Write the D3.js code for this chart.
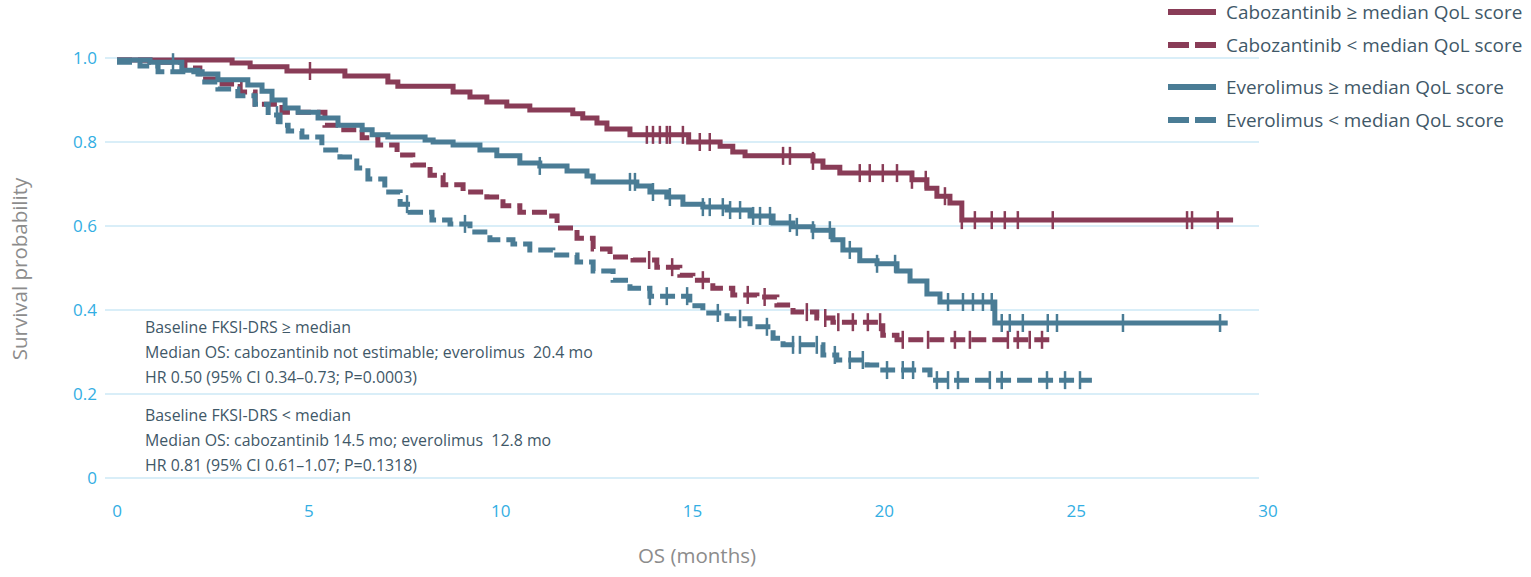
<!DOCTYPE html>
<html><head><meta charset="utf-8">
<script src="https://cdn.jsdelivr.net/npm/d3@7"></script>
<style>
html,body{margin:0;padding:0;background:#fff;}
svg{display:block;font-family:"Open Sans",sans-serif;}
</style></head>
<body><svg id="chart" width="1531" height="577"></svg>
<script>
// ---- data ----
const xTicks = [0, 5, 10, 15, 20, 25, 30];
const yTicks = [0, 0.2, 0.4, 0.6, 0.8, 1.0];
const yTickLabels = ["0", "0.2", "0.4", "0.6", "0.8", "1.0"];

const seriesNames = [
  "Cabozantinib \u2265 median QoL score",
  "Cabozantinib < median QoL score",
  "Everolimus \u2265 median QoL score",
  "Everolimus < median QoL score"
];

// Cabozantinib >= median (solid maroon)
const cabHiT = [0, 3.00, 3.47, 4.43, 5.94, 7.06, 7.32, 8.76, 9.20, 9.64, 10.16, 10.76, 11.88, 12.14, 12.51, 12.77, 13.37, 14.90, 15.72, 16.05, 16.37, 18.14, 18.40, 18.84, 20.72, 21.11, 21.37, 21.71, 22.02, 29.09];
const cabHiS = [0.995, 0.988, 0.979, 0.969, 0.957, 0.943, 0.933, 0.919, 0.907, 0.895, 0.886, 0.876, 0.867, 0.857, 0.845, 0.831, 0.817, 0.800, 0.790, 0.776, 0.767, 0.755, 0.740, 0.726, 0.710, 0.690, 0.671, 0.655, 0.614, 0.614];
const cabHiCens = [5.03, 13.81, 13.97, 14.15, 14.33, 14.41, 14.75, 15.19, 15.45, 17.36, 17.54, 18.14, 19.36, 19.62, 19.96, 20.33, 20.72, 21.08, 21.58, 22.02, 22.36, 22.80, 23.14, 23.48, 24.39, 27.89, 28.02, 28.69];

// Cabozantinib < median (dashed maroon)
const cabLoT = [0, 0.86, 1.77, 2.16, 2.74, 3.21, 3.60, 4.30, 5.42, 5.76, 6.39, 6.80, 7.30, 7.71, 8.16, 8.50, 9.02, 9.64, 10.06, 10.50, 11.21, 11.47, 11.99, 12.41, 12.85, 13.45, 14.07, 14.67, 15.01, 15.53, 16.05, 16.68, 17.20, 17.62, 18.24, 18.66, 19.96, 20.33, 24.37];
const cabLoS = [0.995, 0.990, 0.976, 0.950, 0.938, 0.919, 0.890, 0.871, 0.840, 0.829, 0.810, 0.793, 0.769, 0.745, 0.721, 0.698, 0.681, 0.669, 0.648, 0.633, 0.624, 0.595, 0.571, 0.545, 0.526, 0.519, 0.502, 0.483, 0.471, 0.452, 0.436, 0.431, 0.412, 0.395, 0.381, 0.371, 0.340, 0.329, 0.329];
const cabLoCens = [13.87, 14.47, 15.27, 16.44, 16.88, 17.98, 18.46, 18.80, 19.18, 19.57, 19.89, 20.48, 21.14, 21.84, 22.23, 23.22, 23.48, 23.79, 24.11];

// Everolimus >= median (solid teal)
const eveHiT = [0, 0.86, 1.69, 2.11, 2.63, 3.41, 3.78, 4.04, 4.38, 4.72, 5.24, 5.76, 6.39, 6.65, 7.06, 8.03, 8.24, 8.76, 9.46, 9.90, 10.50, 11.02, 11.73, 12.25, 12.41, 13.55, 13.89, 14.33, 14.75, 15.27, 15.90, 16.50, 17.10, 17.62, 18.14, 18.66, 18.92, 19.36, 19.81, 20.33, 20.67, 21.11, 21.45, 22.88, 28.95];
const eveHiS = [0.995, 0.990, 0.971, 0.962, 0.948, 0.936, 0.921, 0.900, 0.881, 0.871, 0.857, 0.840, 0.829, 0.817, 0.812, 0.805, 0.800, 0.793, 0.781, 0.767, 0.750, 0.743, 0.731, 0.719, 0.705, 0.695, 0.681, 0.669, 0.652, 0.645, 0.638, 0.624, 0.607, 0.598, 0.590, 0.567, 0.543, 0.517, 0.510, 0.493, 0.469, 0.438, 0.419, 0.369, 0.369];
const eveHiCens = [1.46, 11.02, 13.37, 13.50, 13.97, 14.41, 15.27, 15.45, 15.79, 15.98, 16.24, 16.58, 16.76, 17.02, 17.54, 17.72, 18.14, 18.58, 19.10, 19.81, 20.28, 21.66, 22.05, 22.31, 22.57, 22.80, 23.06, 23.27, 23.61, 24.26, 24.50, 26.22, 28.75];

// Everolimus < median (dashed teal)
const eveLoT = [0, 0.60, 1.07, 2.22, 2.63, 3.15, 3.60, 3.94, 4.25, 4.46, 4.82, 5.34, 5.81, 6.25, 6.54, 6.98, 7.38, 7.64, 8.21, 8.68, 9.20, 9.72, 10.32, 10.76, 11.36, 11.99, 12.41, 12.93, 13.37, 13.89, 14.93, 15.27, 15.90, 16.50, 17.10, 17.36, 18.40, 18.76, 19.55, 19.96, 21.19, 25.41];
const eveLoS = [0.990, 0.981, 0.967, 0.943, 0.926, 0.910, 0.890, 0.864, 0.840, 0.826, 0.812, 0.781, 0.764, 0.738, 0.712, 0.681, 0.652, 0.633, 0.614, 0.605, 0.586, 0.567, 0.557, 0.543, 0.531, 0.514, 0.493, 0.471, 0.452, 0.433, 0.410, 0.393, 0.379, 0.360, 0.333, 0.317, 0.293, 0.281, 0.269, 0.257, 0.233, 0.233];
const eveLoCens = [4.17, 7.56, 9.07, 13.89, 14.33, 14.86, 15.66, 16.24, 16.94, 17.62, 17.80, 18.24, 18.71, 19.10, 19.44, 20.07, 20.48, 20.75, 21.37, 21.66, 21.92, 22.75, 23.06, 24.24, 24.71, 25.10];

const annotLines = [
  "Baseline FKSI-DRS \u2265 median",
  "Median OS: cabozantinib not estimable; everolimus\u00a0 20.4 mo",
  "HR 0.50 (95% CI 0.34\u20130.73; P=0.0003)",
  "Baseline FKSI-DRS < median",
  "Median OS: cabozantinib 14.5 mo; everolimus\u00a0 12.8 mo",
  "HR 0.81 (95% CI 0.61\u20131.07; P=0.1318)"
];

// ---- styles ----
const MAROON = "#893c57";
const TEAL = "#4a7c95";
const GRID = "#cde9f6";
const TICKC = "#33aee3";
const TEXTC = "#3f5868";

const svg = d3.select("#chart");
const x = d3.scaleLinear().domain([0, 30]).range([117, 1268]);
const y = d3.scaleLinear().domain([0, 1]).range([478, 58]);

// gridlines
svg.append("g").selectAll("line").data(yTicks).join("line")
  .attr("x1", 105).attr("x2", 1259)
  .attr("y1", d => y(d)).attr("y2", d => y(d))
  .attr("stroke", GRID).attr("stroke-width", 1.5);

// y tick labels
svg.append("g").selectAll("text").data(yTicks).join("text")
  .attr("x", 97).attr("y", d => y(d)).attr("dy", "0.35em")
  .attr("text-anchor", "end").attr("fill", TICKC).attr("font-size", 17)
  .text((d, i) => yTickLabels[i]);

// x tick labels
svg.append("g").selectAll("text").data(xTicks).join("text")
  .attr("x", d => x(d)).attr("y", 517)
  .attr("text-anchor", "middle").attr("fill", TICKC).attr("font-size", 17)
  .text(d => d);

// axis titles
svg.append("text").attr("transform", "translate(27,269) rotate(-90)")
  .attr("text-anchor", "middle").attr("fill", "#8c8c8c").attr("font-size", 20.5)
  .text("Survival probability");
svg.append("text").attr("x", 697).attr("y", 563)
  .attr("text-anchor", "middle").attr("fill", "#8c8c8c").attr("font-size", 20.5)
  .text("OS (months)");

// annotations
const annY = [333, 358, 383, 421, 446, 471];
svg.append("g").selectAll("text").data(annotLines).join("text")
  .attr("x", 145).attr("y", (d, i) => annY[i])
  .attr("fill", TEXTC).attr("font-size", 15.9)
  .text(d => d);

// curves
const series = [
  {t: cabHiT, s: cabHiS, c: cabHiCens, color: MAROON, dash: null},
  {t: cabLoT, s: cabLoS, c: cabLoCens, color: MAROON, dash: "15,6"},
  {t: eveHiT, s: eveHiS, c: eveHiCens, color: TEAL, dash: null},
  {t: eveLoT, s: eveLoS, c: eveLoCens, color: TEAL, dash: "15,6"}
];
const line = d3.line().x(d => x(d[0])).y(d => y(d[1])).curve(d3.curveStepAfter);
function survAt(sr, t) {
  let v = sr.s[0];
  for (let i = 0; i < sr.t.length; i++) { if (sr.t[i] <= t) v = sr.s[i]; }
  return v;
}
series.forEach(sr => {
  const pts = sr.t.map((t, i) => [t, sr.s[i]]);
  const g = svg.append("g");
  g.append("path").attr("d", line(pts)).attr("fill", "none")
    .attr("stroke", sr.color).attr("stroke-width", 5)
    .attr("stroke-dasharray", sr.dash);
  g.selectAll("line").data(sr.c).join("line")
    .attr("x1", d => x(d)).attr("x2", d => x(d))
    .attr("y1", d => y(survAt(sr, d)) - 9).attr("y2", d => y(survAt(sr, d)) + 9)
    .attr("stroke", sr.color).attr("stroke-width", 2.5);
});

// legend
const legY = [12, 45, 87, 120];
const leg = svg.append("g");
seriesNames.forEach((name, i) => {
  const sr = series[i];
  leg.append("line").attr("x1", 1168).attr("x2", 1216)
    .attr("y1", legY[i]).attr("y2", legY[i])
    .attr("stroke", sr.color).attr("stroke-width", 6)
    .attr("stroke-dasharray", sr.dash ? "21,6" : null);
  leg.append("text").attr("x", 1226).attr("y", legY[i]).attr("dy", "0.35em")
    .attr("fill", TEXTC).attr("font-size", 18.9).text(name);
});
</script>
</body></html>
